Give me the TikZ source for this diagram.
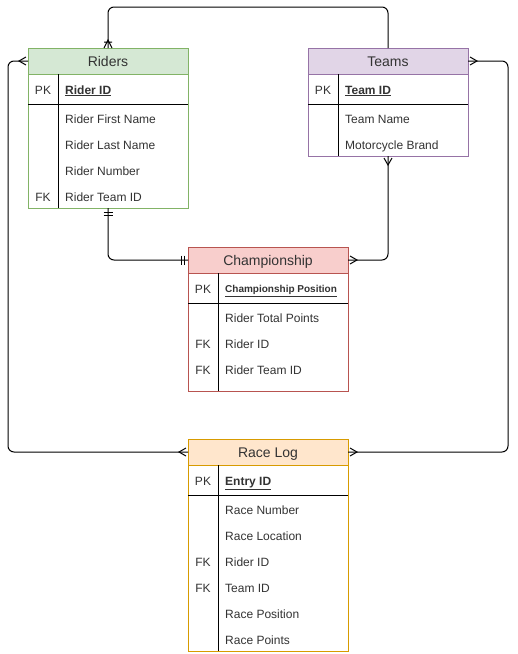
\documentclass[tikz,border=0pt]{standalone}
\usepackage{fontspec}
\setmainfont{Liberation Sans}
\usetikzlibrary{positioning,calc}
\definecolor{ridfill}{HTML}{D5E8D4} \definecolor{ridline}{HTML}{82B366}
\definecolor{teamfill}{HTML}{E1D5E7} \definecolor{teamline}{HTML}{9673A6}
\definecolor{chfill}{HTML}{F8CECC} \definecolor{chline}{HTML}{B85450}
\definecolor{logfill}{HTML}{FFE6CC} \definecolor{logline}{HTML}{D79B00}
\tikzset{
  head/.style   ={draw,minimum width=160pt,minimum height=26pt,inner sep=0pt,outer sep=0pt,
                  line width=1pt,text=black!80,text height=10pt,text depth=0pt,
                  font=\fontsize{14}{16}\selectfont},
  body/.style   ={draw,fill=white,minimum width=160pt,inner sep=0pt,outer sep=0pt,line width=1pt},
  key/.style    ={inner sep=0pt,text height=8.6pt,text depth=0pt,text=black!80,yshift=-0.8pt,
                  font=\fontsize{12}{14}\selectfont},
  field/.style  ={key,anchor=west},
  pkfield/.style={field,font=\fontsize{12}{14}\selectfont\bfseries},
  sep/.style    ={line width=1pt,black},
  conn/.style   ={line width=1pt,black,rounded corners=6pt},
  ermark/.style ={line width=1pt,black},
}
% ER end markers: #1 anchor, #2 direction pointing away from the table
\newcommand{\ermany}[2]{\begin{scope}[shift={(#1)},rotate=#2]
  \draw[ermark] (2,4) -- (9,0) -- (2,-4);\end{scope}}
\newcommand{\eronemany}[2]{\begin{scope}[shift={(#1)},rotate=#2]
  \draw[ermark] (0,4) -- (8,0) -- (0,-4) (6,4) -- (6,-4);\end{scope}}
\newcommand{\erone}[2]{\begin{scope}[shift={(#1)},rotate=#2]
  \draw[ermark] (4,4.5) -- (4,-4.5) (7,4.5) -- (7,-4.5);\end{scope}}

\begin{document}
\begin{tikzpicture}[x=1pt,y=-1pt]
  \useasboundingbox (0,0) rectangle (518,654);
  % Riders
  \node[head,fill=ridfill,draw=ridline] (riders) at (108,61) {Riders};
  \node[body,draw=ridline,minimum height=134pt,below=0pt of riders] (ridersbody) {};
  \draw[sep] ($(ridersbody.north west)+(30,0)$) -- ($(ridersbody.south west)+(30,0)$);
  \draw[sep] ($(ridersbody.north west)+(0,30)$) -- ($(ridersbody.north east)+(0,30)$);
  \node[key] (ridpk) at ($(ridersbody.north west)+(15,15)$) {PK};
  \node[pkfield] (ridid) at ($(ridersbody.north west)+(37,15)$) {\underline{Rider ID}};
  \foreach \t [count=\i from 0] in {Rider First Name,Rider Last Name,Rider Number,Rider Team ID}
    \node[field] (ridf\i) at ($(ridersbody.north west)+(37,44.5+26*\i)$) {\t};
  \node[key] (ridfk) at ($(ridersbody.north west)+(15,122.5)$) {FK};

  % Teams
  \node[head,fill=teamfill,draw=teamline] (teams) at (388,61) {Teams};
  \node[body,draw=teamline,minimum height=82pt,below=0pt of teams] (teamsbody) {};
  \draw[sep] ($(teamsbody.north west)+(30,0)$) -- ($(teamsbody.south west)+(30,0)$);
  \draw[sep] ($(teamsbody.north west)+(0,30)$) -- ($(teamsbody.north east)+(0,30)$);
  \node[key] (teampk) at ($(teamsbody.north west)+(15,15)$) {PK};
  \node[pkfield] (teamid) at ($(teamsbody.north west)+(37,15)$) {\underline{Team ID}};
  \foreach \t [count=\i from 0] in {Team Name,Motorcycle Brand}
    \node[field] (teamf\i) at ($(teamsbody.north west)+(37,44.5+26*\i)$) {\t};

  % Championship
  \node[head,fill=chfill,draw=chline] (champ) at (268,260) {Championship};
  \node[body,draw=chline,minimum height=118pt,below=0pt of champ] (champbody) {};
  \draw[sep] ($(champbody.north west)+(30,0)$) -- ($(champbody.south west)+(30,0)$);
  \draw[sep] ($(champbody.north west)+(0,30)$) -- ($(champbody.north east)+(0,30)$);
  \node[key] (chpk) at ($(champbody.north west)+(15,15)$) {PK};
  \node[pkfield,font=\fontsize{10}{12}\selectfont\bfseries,text height=7.2pt] (chpos)
    at ($(champbody.north west)+(37,15)$) {\underline{Championship Position}};
  \foreach \t [count=\i from 0] in {Rider Total Points,Rider ID,Rider Team ID}
    \node[field] (chf\i) at ($(champbody.north west)+(37,44.5+26*\i)$) {\t};
  \foreach \i in {1,2}
    \node[key] (chfk\i) at ($(champbody.north west)+(15,44.5+26*\i)$) {FK};

  % Race Log
  \node[head,fill=logfill,draw=logline] (racelog) at (268,452) {Race Log};
  \node[body,draw=logline,minimum height=186pt,below=0pt of racelog] (logbody) {};
  \draw[sep] ($(logbody.north west)+(30,0)$) -- ($(logbody.south west)+(30,0)$);
  \draw[sep] ($(logbody.north west)+(0,30)$) -- ($(logbody.north east)+(0,30)$);
  \node[key] (logpk) at ($(logbody.north west)+(15,15)$) {PK};
  \node[pkfield] (logid) at ($(logbody.north west)+(37,15)$) {\underline{Entry ID}};
  \foreach \t [count=\i from 0] in {Race Number,Race Location,Rider ID,Team ID,Race Position,Race Points}
    \node[field] (logf\i) at ($(logbody.north west)+(37,44.5+26*\i)$) {\t};
  \foreach \i in {2,3}
    \node[key] (logfk\i) at ($(logbody.north west)+(15,44.5+26*\i)$) {FK};

  % relations
  \coordinate (topy) at (0,7);
  \coordinate (leftx) at (8,0);
  \coordinate (rightx) at (508,0);
  \draw[conn] (teams.north) -- (teams.north |- topy) -| (riders.north);
  \draw[conn] (ridersbody.south) |- (champ.west);
  \draw[conn] (teamsbody.south) |- (champ.east);
  \draw[conn] (riders.west) -- (riders.west -| leftx) |- (racelog.west);
  \draw[conn] (teams.east) -- (teams.east -| rightx) |- (racelog.east);
  % end markers
  \eronemany{riders.north}{90}
  \erone{ridersbody.south}{270}
  \erone{champ.west}{180}
  \ermany{champ.east}{0}
  \ermany{teamsbody.south}{270}
  \ermany{riders.west}{180}
  \ermany{racelog.west}{180}
  \ermany{teams.east}{0}
  \ermany{racelog.east}{0}
\end{tikzpicture}
\end{document}
